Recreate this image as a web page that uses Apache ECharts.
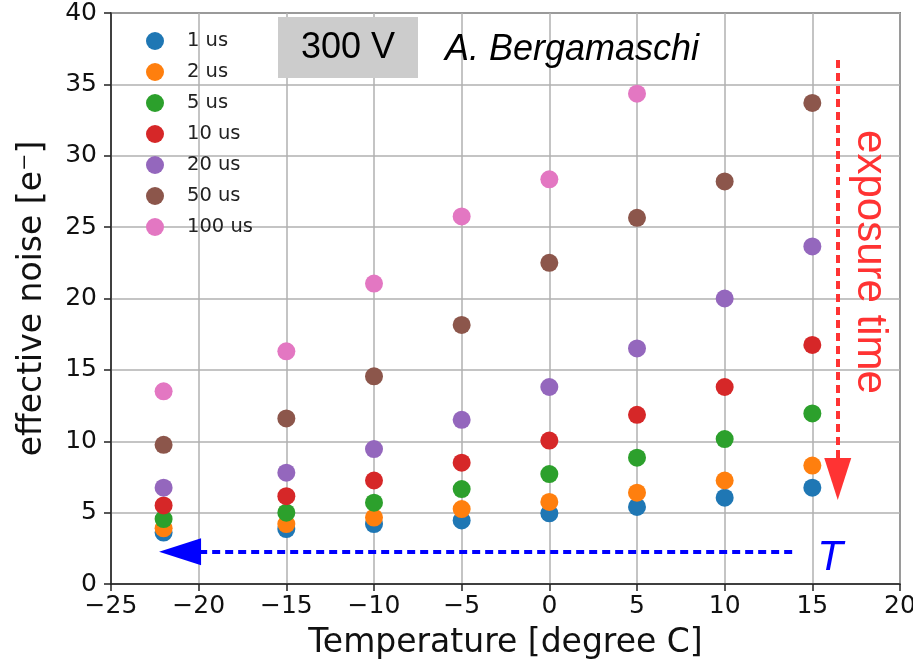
<!DOCTYPE html>
<html>
<head>
<meta charset="utf-8">
<script src="https://cdn.jsdelivr.net/npm/echarts@6/dist/echarts.min.js"></script>
<style>html,body{margin:0;padding:0;background:#fff}#c{width:913px;height:667px}</style>
</head>
<body>
<div id="c"></div>
<script>
// ---- data ----
const temperatures = [-22, -15, -10, -5, 0, 5, 10, 15];
const seriesNames = ['1 us', '2 us', '5 us', '10 us', '20 us', '50 us', '100 us'];
const noise1us   = [3.6, 3.85, 4.2, 4.45, 4.95, 5.4, 6.05, 6.75];
const noise2us   = [3.9, 4.2, 4.65, 5.25, 5.75, 6.4, 7.25, 8.3];
const noise5us   = [4.55, 5.0, 5.7, 6.65, 7.7, 8.85, 10.15, 11.95];
const noise10us  = [5.5, 6.15, 7.25, 8.5, 10.05, 11.85, 13.8, 16.75];
const noise20us  = [6.75, 7.8, 9.45, 11.5, 13.8, 16.5, 20.0, 23.65];
const noise50us  = [9.75, 11.6, 14.55, 18.15, 22.5, 25.65, 28.2, 33.7];
const noise100us = [13.5, 16.3, 21.05, 25.75, 28.35, 34.35, null, null];
const xTicks = [-25, -20, -15, -10, -5, 0, 5, 10, 15, 20];
const yTicks = [0, 5, 10, 15, 20, 25, 30, 35, 40];
const colors = ['#1f77b4', '#ff7f0e', '#2ca02c', '#d62728', '#9467bd', '#8c564b', '#e377c2'];
// annotation arrows (data space)
const exposureArrow = [[16.45, 36.7], [16.45, 7.35]];
const tempArrow = [[13.85, 2.26], [-21.06, 2.26]];

const allNoise = [noise1us, noise2us, noise5us, noise10us, noise20us, noise50us, noise100us];
const fmt = v => (v < 0 ? '\u2212' + Math.abs(v) : String(v));
const tickFont = 'DejaVu Sans';

const series = seriesNames.map((name, i) => ({
  name: name,
  type: 'scatter',
  symbolSize: 18,
  itemStyle: { color: colors[i], opacity: 1 },
  data: temperatures.map((t, j) => allNoise[i][j] == null ? null : [t, allNoise[i][j]]).filter(d => d),
  z: 3
}));

series.push({
  name: 'annot',
  type: 'line',
  data: [],
  silent: true,
  markLine: {
    silent: true,
    animation: false,
    symbol: ['none', 'triangle'],
    symbolSize: [27, 42],
    label: { show: false },
    data: [
      [{ coord: exposureArrow[0], lineStyle: { color: '#ff3333', width: 4, type: [8, 5] }, itemStyle: { color: '#ff3333' } },
       { coord: exposureArrow[1] }],
      [{ coord: tempArrow[0], lineStyle: { color: '#0000ff', width: 4, type: [8, 5] }, itemStyle: { color: '#0000ff' } },
       { coord: tempArrow[1] }]
    ]
  },
  z: 5
});

const chart = echarts.init(document.getElementById('c'), null, { renderer: 'canvas' });
chart.setOption({
  animation: false,
  backgroundColor: '#ffffff',
  grid: { left: 111, right: 13, top: 13, bottom: 83, containLabel: false, outerBoundsMode: 'none', show: true, borderColor: '#222', borderWidth: 1.5, backgroundColor: 'transparent' },
  legend: {
    data: seriesNames,
    orient: 'vertical',
    left: 141,
    top: 26,
    icon: 'circle',
    itemWidth: 18,
    itemHeight: 18,
    itemGap: 11,
    textStyle: { fontFamily: tickFont, fontSize: 19.5, color: '#222', padding: [0, 0, 0, 18], lineHeight: 18 }
  },
  xAxis: {
    type: 'value',
    min: xTicks[0], max: xTicks[xTicks.length - 1], interval: 5,
    name: 'Temperature [degree C]',
    nameLocation: 'middle',
    nameGap: 43,
    nameTextStyle: { fontFamily: tickFont, fontSize: 33, color: '#111' },
    axisLine: { show: true, onZero: false, lineStyle: { color: '#222', width: 1.5 } },
    axisTick: { show: true, length: 7, lineStyle: { color: '#222', width: 1.5 } },
    axisLabel: { margin: 10, fontFamily: tickFont, fontSize: 25, color: '#111', formatter: fmt },
    splitLine: { show: true, lineStyle: { color: '#b0b0b0', width: 1.5 } }
  },
  yAxis: {
    type: 'value',
    min: yTicks[0], max: yTicks[yTicks.length - 1], interval: 5,
    name: 'effective noise [e\u207B]',
    nameLocation: 'middle',
    nameGap: 62,
    nameTextStyle: { fontFamily: tickFont, fontSize: 33, color: '#111' },
    axisLine: { show: true, onZero: false, lineStyle: { color: '#222', width: 1.5 } },
    axisTick: { show: true, length: 7, lineStyle: { color: '#222', width: 1.5 } },
    axisLabel: { margin: 14, fontFamily: tickFont, fontSize: 25, color: '#111', formatter: fmt },
    splitLine: { show: true, lineStyle: { color: '#b0b0b0', width: 1.5 } }
  },
  graphic: [
    { type: 'rect', shape: { x: 278, y: 17, width: 140, height: 61 }, style: { fill: '#cccccc' }, z: 10 },
    { type: 'text', x: 348, y: 48, style: { text: '300 V', fontFamily: 'Liberation Sans', fontSize: 36, fill: '#000', align: 'center', verticalAlign: 'middle' }, z: 11 },
    { type: 'text', x: 445, y: 50, style: { text: 'A. Bergamaschi', fontFamily: 'Liberation Sans', fontStyle: 'italic', fontSize: 36, fill: '#000', align: 'left', verticalAlign: 'middle' }, z: 11 },
    { type: 'text', x: 870, y: 262, rotation: -Math.PI / 2, style: { text: 'exposure time', fontFamily: 'Liberation Sans', fontSize: 42, fill: '#ff3333', align: 'center', verticalAlign: 'middle' }, z: 11 },
    { type: 'text', x: 830, y: 558, style: { text: 'T', fontFamily: 'Liberation Sans', fontStyle: 'italic', fontSize: 42, fill: '#0000ff', align: 'center', verticalAlign: 'middle' }, z: 11 }
  ],
  series: series
});
</script>
</body>
</html>
